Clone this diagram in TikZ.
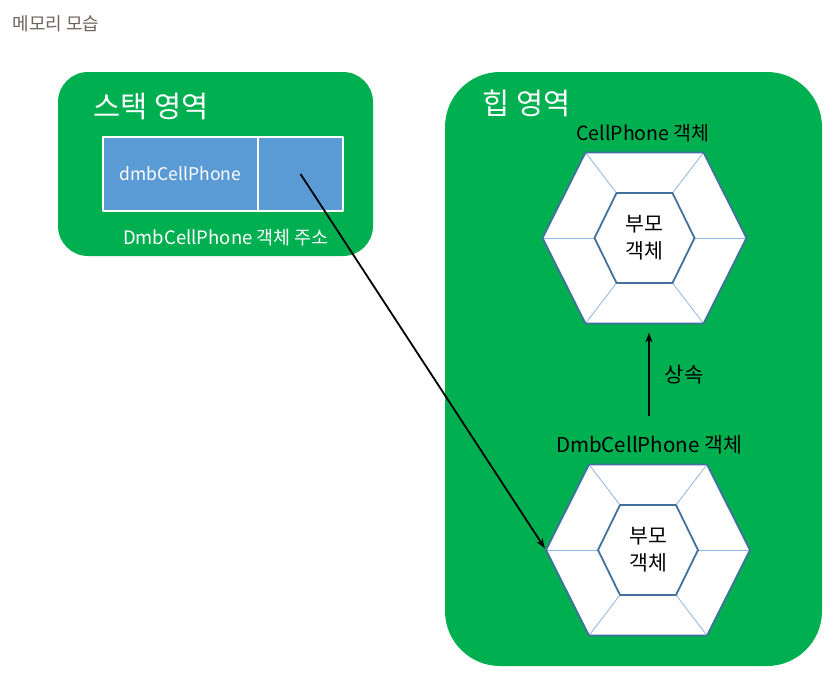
\documentclass[tikz,border=0pt]{standalone}
\usepackage{fontspec}
\setmainfont{Noto Sans CJK KR}
\usetikzlibrary{positioning,arrows.meta}
\definecolor{areagreen}{HTML}{00B050}
\definecolor{cellblue}{HTML}{5B9BD5}
\definecolor{hexblue}{HTML}{41719C}
\definecolor{spokeblue}{HTML}{8DB7E2}
\definecolor{titlegray}{HTML}{6E625A}
\tikzset{
  area/.style={fill=areagreen, inner sep=0pt},
  cell/.style={fill=cellblue, draw=white, line width=2pt, inner sep=0pt, minimum height=74pt},
  hexline/.style={draw=hexblue, line width=1.8pt},
  spoke/.style={draw=spokeblue, line width=0.8pt},
  link/.style={draw=black, line width=1.8pt, -{Stealth[length=10pt,width=7pt]}},
  pics/cellhex/.style={code={
    \path (-59,-85.5) coordinate (-o1) (59,-85.5) coordinate (-o2) (102,0) coordinate (-o3)
          (59,85.5) coordinate (-o4) (-59,85.5) coordinate (-o5) (-102,0) coordinate (-o6);
    \path (-28,-45) coordinate (-i1) (28,-45) coordinate (-i2) (50,0) coordinate (-i3)
          (28,45) coordinate (-i4) (-28,45) coordinate (-i5) (-50,0) coordinate (-i6);
    \fill[white] (-o1)--(-o2)--(-o3)--(-o4)--(-o5)--(-o6)--cycle;
    \foreach \k in {1,...,6}{\draw[spoke] (-o\k)--(-i\k);}
    \draw[hexline] (-o1)--(-o2)--(-o3)--(-o4)--(-o5)--(-o6)--cycle;
    \draw[hexline] (-i1)--(-i2)--(-i3)--(-i4)--(-i5)--(-i6)--cycle;
  }}
}
\begin{document}
\begin{tikzpicture}[x=1pt, y=-1pt, line join=round]
\useasboundingbox (0,0) rectangle (835,688);
\node[anchor=west, text=titlegray, font=\fontsize{18}{21}\selectfont] (title) at (9,24) {메모리 모습};
% stack area
\node[area, rounded corners=30pt, minimum width=315pt, minimum height=184pt] (stack) at (215.5,164) {};
\node[anchor=west, text=white, font=\fontsize{29.5}{34}\selectfont] (stackname) at (90,106) {스택 영역};
\node[cell, minimum width=155pt, text=white, font=\fontsize{17.5}{20}\selectfont] (var) at (180.5,174) {dmbCellPhone};
\node[cell, minimum width=85pt] (ptr) at (300.5,174) {};
\node[text=white, font=\fontsize{18.5}{21}\selectfont] (addr) at (226,238) {DmbCellPhone 객체 주소};
% heap area
\node[area, rounded corners=55pt, minimum width=377pt, minimum height=594pt] (heap) at (633.5,369) {};
\node[anchor=west, text=white, font=\fontsize{29.5}{34}\selectfont] (heapname) at (479,103) {힙 영역};
\node[font=\fontsize{19.5}{23}\selectfont] (lblA) at (643,133) {CellPhone 객체};
\node[font=\fontsize{20.5}{24}\selectfont] (lblB) at (649,445) {DmbCellPhone 객체};
\pic (hexA) at (644.5,238) {cellhex};
\pic (hexB) at (648,550) {cellhex};
\node[align=center, font=\fontsize{20.5}{27}\selectfont] (parA) at (644.5,238) {부모\\객체};
\node[align=center, font=\fontsize{20.5}{27}\selectfont] (parB) at (648,550) {부모\\객체};
% arrows
\draw[link] ([yshift=16pt]lblB.north) -- ([yshift=-9pt]hexA-o4 -| lblB.north);
\node[font=\fontsize{21}{24}\selectfont] (inherit) at (684,375) {상속};
\draw[link, shorten >=2pt] (ptr.center) -- (hexB-o6);
\end{tikzpicture}
\end{document}
